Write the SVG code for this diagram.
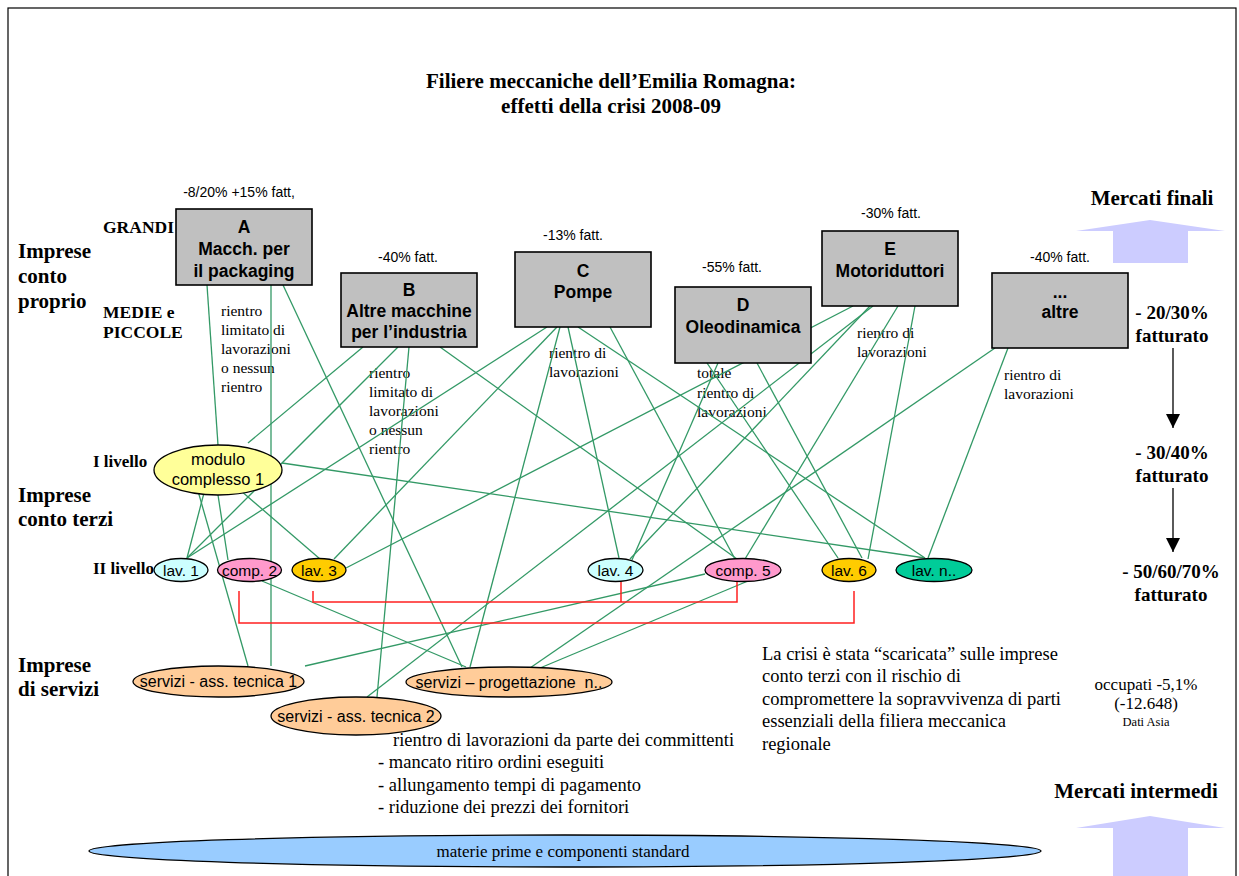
<svg xmlns="http://www.w3.org/2000/svg" width="1239" height="876" viewBox="0 0 1239 876">
<defs>
<style>
.g{stroke:#339966;stroke-width:1.3;fill:none}
.r{stroke:#FF2020;stroke-width:1.5;fill:none}
.box{fill:#C0C0C0;stroke:#000;stroke-width:1.6}
.el{stroke:#000;stroke-width:1.3}
.sa{font-family:"Liberation Sans",Arial,sans-serif}
.ss{font-family:"Liberation Serif","Times New Roman",serif}
.bt{font-family:"Liberation Sans",Arial,sans-serif;font-weight:bold;font-size:17.5px;text-anchor:middle}
.pc{font-family:"Liberation Sans",Arial,sans-serif;font-size:14px;text-anchor:middle}
.an{font-family:"Liberation Serif","Times New Roman",serif;font-size:15.5px}
.lb{font-family:"Liberation Serif","Times New Roman",serif;font-weight:bold}
.el-t{font-family:"Liberation Sans",Arial,sans-serif;font-size:15.5px;text-anchor:middle}
</style>
<marker id="ah" viewBox="0 0 10 10" refX="10" refY="5" markerWidth="14" markerHeight="14" markerUnits="userSpaceOnUse" orient="auto"><path d="M0,0 L10,5 L0,10 Z" fill="#000"/></marker>
</defs>
<rect x="0" y="0" width="1239" height="876" fill="#fff"/>
<rect x="8" y="8" width="1228" height="880" fill="none" stroke="#000" stroke-width="1.2"/>

<text class="lb" x="611" y="88" font-size="21" text-anchor="middle">Filiere meccaniche dell’Emilia Romagna:</text>
<text class="lb" x="611" y="113" font-size="21" text-anchor="middle">effetti della crisi 2008-09</text>

<g id="labels-left">
<text class="lb" x="18" y="258" font-size="21">Imprese</text>
<text class="lb" x="18" y="283" font-size="21">conto</text>
<text class="lb" x="18" y="308" font-size="21">proprio</text>
<text class="lb" x="103" y="233" font-size="17.5">GRANDI</text>
<text class="lb" x="103" y="318" font-size="17.5">MEDIE e</text>
<text class="lb" x="103" y="338" font-size="17.5">PICCOLE</text>
<text class="lb" x="93" y="467" font-size="17">I livello</text>
<text class="lb" x="18" y="502" font-size="21">Imprese</text>
<text class="lb" x="18" y="526" font-size="21">conto terzi</text>
<text class="lb" x="93" y="574" font-size="17">II livello</text>
<text class="lb" x="18" y="672" font-size="21">Imprese</text>
<text class="lb" x="18" y="696" font-size="21">di servizi</text>
</g>

<g id="annotations">
<text class="an" x="221" y="316">rientro</text>
<text class="an" x="221" y="335">limitato di</text>
<text class="an" x="221" y="354">lavorazioni</text>
<text class="an" x="221" y="373">o nessun</text>
<text class="an" x="221" y="392">rientro</text>
<text class="an" x="369" y="378">rientro</text>
<text class="an" x="369" y="397">limitato di</text>
<text class="an" x="369" y="416">lavorazioni</text>
<text class="an" x="369" y="435">o nessun</text>
<text class="an" x="369" y="454">rientro</text>
<text class="an" x="549" y="358">rientro di</text>
<text class="an" x="549" y="377">lavorazioni</text>
<text class="an" x="697" y="378">totale</text>
<text class="an" x="697" y="398">rientro di</text>
<text class="an" x="697" y="417">lavorazioni</text>
<text class="an" x="857" y="338">rientro di</text>
<text class="an" x="857" y="357">lavorazioni</text>
<text class="an" x="1004" y="380">rientro di</text>
<text class="an" x="1004" y="399">lavorazioni</text>
</g>

<g id="connectors">
<path class="g" d="M207,285 L218,445"/>
<path class="g" d="M271,285 L271,666"/>
<path class="g" d="M283,285 L462,667"/>
<path class="g" d="M363,347 L248,443"/>
<path class="g" d="M398,347 L187,558"/>
<path class="g" d="M409,347 L377,697"/>
<path class="g" d="M440,347 L737,559"/>
<path class="g" d="M547,327 L187,558"/>
<path class="g" d="M557,327 L334,559"/>
<path class="g" d="M560,327 L470,667"/>
<path class="g" d="M568,327 L619,558"/>
<path class="g" d="M578,327 L925,558"/>
<path class="g" d="M610,327 L735,559"/>
<path class="g" d="M707,363 L838,558"/>
<path class="g" d="M718,363 L632,560"/>
<path class="g" d="M757,363 L862,558"/>
<path class="g" d="M853,306 L346,568"/>
<path class="g" d="M873,306 L367,697"/>
<path class="g" d="M870,306 L630,559"/>
<path class="g" d="M898,306 L745,559"/>
<path class="g" d="M915,306 L868,559"/>
<path class="g" d="M995,348 L530,668"/>
<path class="g" d="M1008,348 L928,558"/>
<path class="g" d="M205,489 L187,558"/>
<path class="g" d="M218,495 L228,560"/>
<path class="g" d="M198,491 L248,666"/>
<path class="g" d="M240,490 L320,559"/>
<path class="g" d="M282,463 L925,558"/>
<path class="g" d="M262,581 L466,667"/>
<path class="g" d="M705,574 L305,666"/>
<path class="g" d="M748,581 L540,668"/>
<path class="r" d="M239,591 V623 H854 V591"/>
<path class="r" d="M313,591 V602 H737 V581"/>
<path class="r" d="M621,582 V602"/>
<path d="M1173,348 V428" stroke="#000" stroke-width="1.3" marker-end="url(#ah)"/>
<path d="M1173,488 V552" stroke="#000" stroke-width="1.3" marker-end="url(#ah)"/>
</g>

<g id="nodeA"><rect class="box" x="176" y="209" width="136" height="76"/>
<text class="bt" x="244" y="233">A</text><text class="bt" x="244" y="255">Macch. per</text><text class="bt" x="244" y="277">il packaging</text>
<text class="pc" x="239" y="197">-8/20% +15% fatt,</text></g>
<g id="nodeB"><rect class="box" x="341" y="273" width="136" height="74"/>
<text class="bt" x="409" y="296">B</text><text class="bt" x="409" y="317">Altre macchine</text><text class="bt" x="409" y="338">per l’industria</text>
<text class="pc" x="408" y="262">-40% fatt.</text></g>
<g id="nodeC"><rect class="box" x="515" y="252" width="136" height="75"/>
<text class="bt" x="583" y="277">C</text><text class="bt" x="583" y="298">Pompe</text>
<text class="pc" x="573" y="240">-13% fatt.</text></g>
<g id="nodeD"><rect class="box" x="675" y="287" width="136" height="76"/>
<text class="bt" x="743" y="311">D</text><text class="bt" x="743" y="333">Oleodinamica</text>
<text class="pc" x="732" y="272">-55% fatt.</text></g>
<g id="nodeE"><rect class="box" x="822" y="231" width="136" height="75"/>
<text class="bt" x="890" y="255">E</text><text class="bt" x="890" y="277">Motoriduttori</text>
<text class="pc" x="891" y="218">-30% fatt.</text></g>
<g id="nodeAltre"><rect class="box" x="992" y="273" width="136" height="75"/>
<text class="bt" x="1060" y="298">...</text><text class="bt" x="1060" y="318">altre</text>
<text class="pc" x="1060" y="262">-40% fatt.</text></g>

<g id="modulo"><ellipse class="el" cx="218" cy="470" rx="64" ry="25" fill="#FFFF99"/>
<text class="sa" x="218" y="465" font-size="16.5" text-anchor="middle">modulo</text>
<text class="sa" x="218" y="485" font-size="16.5" text-anchor="middle">complesso 1</text></g>
<g id="lav1"><ellipse class="el" cx="181" cy="570" rx="27" ry="11.5" fill="#CCFFFF"/><text class="el-t" x="181" y="576">lav. 1</text></g>
<g id="comp2"><ellipse class="el" cx="249.5" cy="570" rx="32" ry="11.5" fill="#FF99CC"/><text class="el-t" x="249.5" y="576">comp. 2</text></g>
<g id="lav3"><ellipse class="el" cx="319" cy="570" rx="27" ry="11.5" fill="#FFCC00"/><text class="el-t" x="319" y="576">lav. 3</text></g>
<g id="lav4"><ellipse class="el" cx="615.5" cy="570" rx="27.5" ry="11.5" fill="#CCFFFF"/><text class="el-t" x="615.5" y="576">lav. 4</text></g>
<g id="comp5"><ellipse class="el" cx="743" cy="570" rx="38" ry="11.5" fill="#FF99CC"/><text class="el-t" x="743" y="576">comp. 5</text></g>
<g id="lav6"><ellipse class="el" cx="849" cy="570" rx="27" ry="11.5" fill="#FFCC00"/><text class="el-t" x="849" y="576">lav. 6</text></g>
<g id="lavn"><ellipse class="el" cx="934" cy="570" rx="38" ry="11.5" fill="#00CC99"/><text class="el-t" x="934" y="576">lav. n..</text></g>

<g id="serv1"><ellipse class="el" cx="218.5" cy="681.5" rx="85.5" ry="15.5" fill="#FFCC99"/><text class="sa" x="218.5" y="687" font-size="16" text-anchor="middle">servizi - ass. tecnica 1</text></g>
<g id="serv2"><ellipse class="el" cx="356" cy="716" rx="85" ry="19" fill="#FFCC99"/><text class="sa" x="356" y="722" font-size="16" text-anchor="middle">servizi - ass. tecnica 2</text></g>
<g id="servProg"><ellipse class="el" cx="509" cy="682" rx="103" ry="15" fill="#FFCC99"/><text class="sa" x="509" y="688" font-size="16" text-anchor="middle">servizi – progettazione&#160; n..</text></g>

<g id="bottom-list" class="ss" font-size="18.5">
<text x="393" y="746">rientro di lavorazioni da parte dei committenti</text>
<text x="378" y="768">- mancato ritiro ordini eseguiti</text>
<text x="378" y="791">- allungamento tempi di pagamento</text>
<text x="378" y="813">- riduzione dei prezzi dei fornitori</text>
</g>
<g id="crisis" class="ss" font-size="18.5">
<text x="762" y="660">La crisi è stata “scaricata” sulle imprese</text>
<text x="762" y="682">conto terzi con il rischio di</text>
<text x="762" y="705">compromettere la sopravvivenza di parti</text>
<text x="762" y="727">essenziali della filiera meccanica</text>
<text x="762" y="750">regionale</text>
</g>
<g id="occupati" class="ss" text-anchor="middle">
<text x="1146" y="690" font-size="17">occupati -5,1%</text>
<text x="1146" y="709" font-size="17">(-12.648)</text>
<text x="1146" y="726" font-size="12.5">Dati Asia</text>
</g>

<g id="right-col" class="lb" font-size="19" text-anchor="middle">
<text x="1172" y="319">- 20/30%</text>
<text x="1172" y="342">fatturato</text>
<text x="1172" y="459">- 30/40%</text>
<text x="1172" y="482">fatturato</text>
<text x="1171" y="578">- 50/60/70%</text>
<text x="1171" y="601">fatturato</text>
</g>

<g id="mercati-finali">
<text class="lb" x="1152" y="205" font-size="21" text-anchor="middle">Mercati finali</text>
<path d="M1150,220 L1225,231 L1188,231 L1188,263 L1113,263 L1113,231 L1076,231 Z" fill="#CCCCFF"/>
</g>
<g id="mercati-intermedi">
<text class="lb" x="1136" y="798" font-size="21" text-anchor="middle">Mercati intermedi</text>
<path d="M1150,816 L1225,828 L1188,828 L1188,876 L1113,876 L1113,828 L1076,828 Z" fill="#CCCCFF"/>
</g>

<g id="materie"><ellipse class="el" cx="565" cy="851" rx="476" ry="16" fill="#99CCFF"/>
<text class="ss" x="563" y="857" font-size="17" text-anchor="middle">materie prime e componenti standard</text></g>
</svg>
